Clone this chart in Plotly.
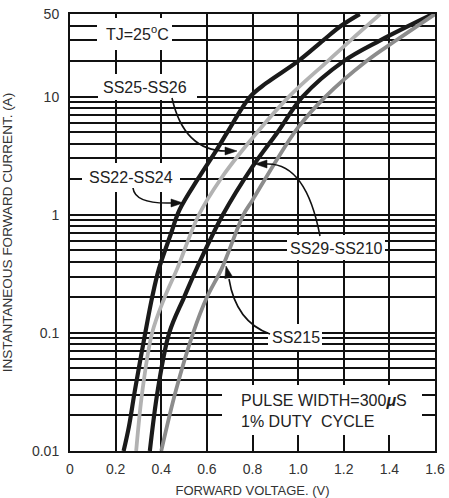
import math
import plotly.graph_objects as go

# ---------------- data ----------------
ss22_v = [0.235, 0.258, 0.285, 0.33, 0.36, 0.39, 0.44, 0.48, 0.56, 0.645, 0.69, 0.79, 0.86, 1.00, 1.11, 1.19, 1.27]
ss22_i = [0.01, 0.016, 0.033, 0.1, 0.2, 0.35, 0.67, 1.1, 2.0, 3.6, 5.0, 10, 13, 20, 30, 40, 50]

ss25_v = [0.29, 0.318, 0.36, 0.415, 0.47, 0.565, 0.66, 0.77, 0.96, 1.13, 1.23, 1.36]
ss25_i = [0.01, 0.033, 0.1, 0.2, 0.35, 1.0, 2.0, 3.8, 10, 20, 30, 50]

ss29_v = [0.35, 0.385, 0.435, 0.50, 0.555, 0.67, 0.80, 0.91, 1.02, 1.20, 1.36, 1.59]
ss29_i = [0.01, 0.033, 0.1, 0.2, 0.35, 1.0, 2.56, 5.0, 10, 20, 30, 50]

ss215_v = [0.40, 0.465, 0.54, 0.60, 0.665, 0.76, 0.80, 0.91, 1.00, 1.12, 1.30, 1.43, 1.60]
ss215_i = [0.01, 0.033, 0.1, 0.2, 0.35, 1.0, 1.33, 3.0, 5.5, 10, 20, 30, 50]

x_tick_vals = [0, 0.2, 0.4, 0.6, 0.8, 1.0, 1.2, 1.4, 1.6]
x_tick_text = ["0", "0.2", "0.4", "0.6", "0.8", "1.0", "1.2", "1.4", "1.6"]
y_label_vals = [0.01, 0.1, 1, 10, 50]
y_label_text = ["0.01", "0.1", "1", "10", "50"]

# ---------------- layout geometry ----------------
W, H = 449, 498
PL, PR, PT, PB = 70, 435, 14, 451          # plot-area edges in window pixels
L, T = PL, PT
R, B = W - PR, H - PB
PW, PH = PR - PL, PB - PT


def px(x):
    return (x - PL) / PW


def py(y):
    return (PB - y) / PH


# y gridlines (log minor grid)
grid_vals = []
for k in range(-2, 1):
    for m in range(1, 10):
        grid_vals.append(round(m * 10 ** k, 6))
grid_vals += [10, 20, 30, 40, 50]
grid_text = []
for v in grid_vals:
    if v in y_label_vals:
        grid_text.append(y_label_text[y_label_vals.index(v)])
    else:
        grid_text.append("")

fig = go.Figure()

series = [
    (ss22_v, ss22_i, "#1a1a1a", 4.2, "SS22-SS24"),
    (ss25_v, ss25_i, "#b2b2b2", 3.8, "SS25-SS26"),
    (ss29_v, ss29_i, "#1a1a1a", 4.2, "SS29-SS210"),
    (ss215_v, ss215_i, "#8c8c8c", 3.8, "SS215"),
]
for xv, yv, col, w, name in series:
    fig.add_trace(go.Scatter(x=xv, y=yv, mode="lines", name=name,
                             line=dict(color=col, width=w, shape="spline", smoothing=1.0),
                             hoverinfo="skip"))

FONT = "Liberation Sans, Arial, sans-serif"

shapes = []
annotations = []

# white boxes behind labels (interrupt gridlines)
boxes = [
    (97, 18, 172, 50),
    (98, 74, 197, 100),
    (82, 163, 180, 192),
    (287, 235, 385, 260),
    (268, 324, 322, 350),
    (222, 385, 422, 435),
]
for x0, y0, x1, y1 in boxes:
    shapes.append(dict(type="rect", xref="paper", yref="paper",
                       x0=px(x0), x1=px(x1), y0=py(y1), y1=py(y0),
                       fillcolor="white", line=dict(width=0), layer="above"))

labels = [
    ("TJ=25<sup>o</sup>C", 137, 33),
    ("SS25-SS26", 145, 87),
    ("SS22-SS24", 131, 177),
    ("SS29-SS210", 336, 248),
    ("SS215", 296, 337),
]
for txt, x, y in labels:
    annotations.append(dict(text=txt, xref="paper", yref="paper", x=px(x), y=py(y),
                            xanchor="center", yanchor="middle", showarrow=False,
                            font=dict(family=FONT, size=16, color="#222")))

annotations.append(dict(text="PULSE WIDTH=300<b><i>\u03bc</i></b>S<br>1% DUTY\u00a0 CYCLE",
                        xref="paper", yref="paper", x=px(239), y=py(411),
                        xanchor="left", yanchor="middle", align="left", showarrow=False,
                        font=dict(family=FONT, size=16, color="#222")))

# curved leader arrows
arrows = [
    ((172, 98), (184, 151), (226, 151), (237, 151)),
    ((133, 188), (135, 204), (171, 203), (183, 203)),
    ((320, 236), (306, 163), (267, 164), (255, 164)),
    ((270, 334), (236, 322), (229, 279), (226, 266)),
]
for (sx, sy), (cx, cy), (ex, ey), (tx, ty) in arrows:
    path = "M %.5f,%.5f Q %.5f,%.5f %.5f,%.5f" % (px(sx), py(sy), px(cx), py(cy), px(ex), py(ey))
    shapes.append(dict(type="path", xref="paper", yref="paper", path=path,
                       line=dict(color="#111", width=1.6), layer="above"))
    dx, dy = tx - ex, ty - ey
    n = math.hypot(dx, dy)
    ux, uy = dx / n, dy / n
    blen, bw = 12, 4
    bx, by = tx - ux * blen, ty - uy * blen
    p1 = (bx - uy * bw, by + ux * bw)
    p2 = (bx + uy * bw, by - ux * bw)
    tri = "M %.5f,%.5f L %.5f,%.5f L %.5f,%.5f Z" % (px(tx), py(ty), px(p1[0]), py(p1[1]), px(p2[0]), py(p2[1]))
    shapes.append(dict(type="path", xref="paper", yref="paper", path=tri,
                       fillcolor="#111", line=dict(color="#111", width=0.5), layer="above"))

fig.update_layout(
    width=W, height=H,
    margin=dict(l=L, r=R, t=T, b=B, pad=0, autoexpand=False),
    paper_bgcolor="white", plot_bgcolor="white",
    showlegend=False,
    font=dict(family=FONT, size=14, color="#222"),
    shapes=shapes, annotations=annotations,
    xaxis=dict(range=[0, 1.6], tickvals=x_tick_vals, ticktext=x_tick_text,
               automargin=False,
               showgrid=True, gridcolor="#111", gridwidth=2, zeroline=False,
               showline=True, linecolor="#111", linewidth=2, mirror=True,
               ticks="", ticklen=0, ticklabelstandoff=4,
               tickfont=dict(family=FONT, size=14, color="#333"),
               title=dict(text="FORWARD VOLTAGE. (V)", standoff=10,
                          font=dict(family=FONT, size=13, color="#333"))),
    yaxis=dict(type="log", range=[-2, math.log10(50) + 0.0008], tickvals=grid_vals, ticktext=grid_text,
               automargin=False, ticklabeloverflow="allow",
               showgrid=True, gridcolor="#111", gridwidth=2, zeroline=False,
               showline=True, linecolor="#111", linewidth=2, mirror=True,
               ticks="", ticklen=0, ticklabelstandoff=6,
               tickfont=dict(family=FONT, size=14, color="#333"),
               title=dict(text="INSTANTANEOUS FORWARD CURRENT. (A)", standoff=18,
                          font=dict(family=FONT, size=13.5, color="#333"))),
)

fig.write_html("out.html", config={"displayModeBar": False},
               post_script="document.body.style.margin='0';")
